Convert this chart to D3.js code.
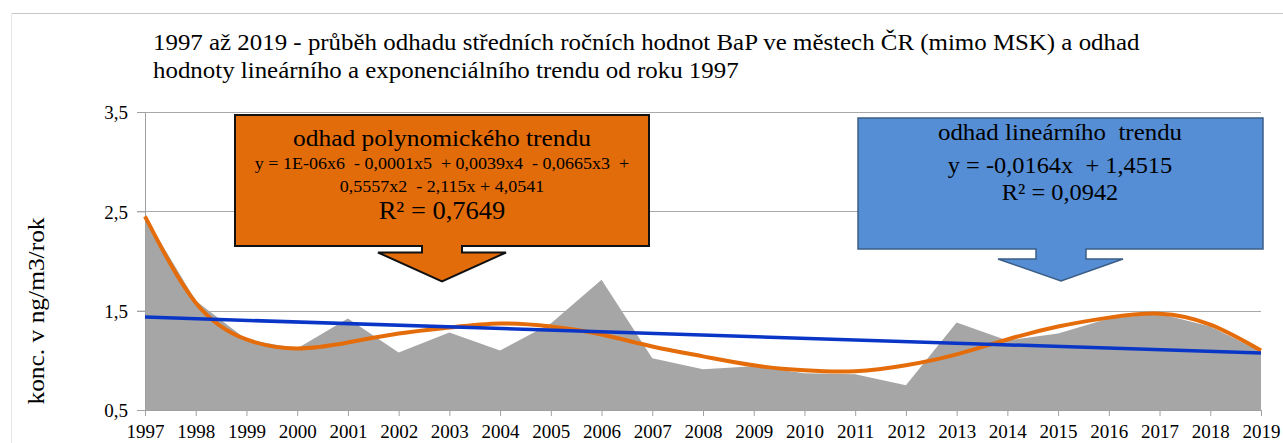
<!DOCTYPE html>
<html>
<head>
<meta charset="utf-8">
<script src="https://cdn.jsdelivr.net/npm/d3@7"></script>
<style>
  body { margin: 0; background: #fff; }
  text { font-family: "Liberation Serif", "Times New Roman", serif; fill: #000; white-space: pre; }
</style>
</head>
<body>
<div id="chart"></div>
<script>
// data
const years = [1997, 1998, 1999, 2000, 2001, 2002, 2003, 2004, 2005, 2006, 2007, 2008,
               2009, 2010, 2011, 2012, 2013, 2014, 2015, 2016, 2017, 2018, 2019];
const bapValues = [2.45, 1.60, 1.21, 1.12, 1.42, 1.08, 1.28, 1.10, 1.37, 1.81, 1.02, 0.91,
                   0.94, 0.87, 0.86, 0.75, 1.38, 1.20, 1.27, 1.42, 1.47, 1.34, 1.09];
const polyTrend = [2.45, 1.58, 1.21, 1.12, 1.18, 1.27, 1.33, 1.37, 1.34, 1.26, 1.14, 1.04,
                   0.95, 0.90, 0.89, 0.95, 1.06, 1.21, 1.34, 1.43, 1.47, 1.36, 1.10];
const linTrendYears = [1997, 2019];
const linTrendValues = [1.435, 1.074];
const yTicks = [0.5, 1.5, 2.5, 3.5];

const titleLines = [
  "1997 až 2019 - průběh odhadu středních ročních hodnot BaP ve městech ČR (mimo MSK) a odhad",
  "hodnoty lineárního a exponenciálního trendu od roku 1997"
];
const polyLabel = [
  "odhad polynomického trendu",
  "y = 1E-06x6  - 0,0001x5  + 0,0039x4  - 0,0665x3  +",
  "0,5557x2  - 2,115x + 4,0541",
  "R² = 0,7649"
];
const linLabel = [
  "odhad lineárního  trendu",
  "y = -0,0164x  + 1,4515",
  "R² = 0,0942"
];
const yLabel = "konc. v ng/m3/rok";

const config = { width: 1283, height: 443, left: 145, right: 1261, top: 112, bottom: 410 };
const SX = 1.06; // the original text is a little wider than Liberation Serif

const svg = d3.select("#chart").append("svg")
  .attr("width", config.width)
  .attr("height", config.height);

// frame of the chart object
svg.append("line").attr("x1", 11).attr("x2", config.width).attr("y1", 13.5).attr("y2", 13.5)
  .attr("stroke", "#c8c8c8");
svg.append("line").attr("x1", 11.5).attr("x2", 11.5).attr("y1", 13).attr("y2", config.height)
  .attr("stroke", "#e6e6e6");

function addText(g, x, y, str, size, anchor, rotate) {
  return g.append("text")
    .attr("transform", `translate(${x},${y})` + (rotate ? ` rotate(${rotate})` : "") + ` scale(${SX},1)`)
    .attr("text-anchor", anchor || "start")
    .style("font-size", size + "px")
    .text(str);
}

const data = years.map((yr, i) => ({ year: yr, v: bapValues[i], p: polyTrend[i] }));
const linData = linTrendYears.map((yr, i) => ({ year: yr, v: linTrendValues[i] }));

const xScale = d3.scaleLinear().domain([1997, 2019]).range([config.left, config.right]);
const yScale = d3.scaleLinear().domain([0.5, 3.5]).range([config.bottom, config.top]);

// gridlines
svg.append("g").selectAll("line")
  .data(yTicks.slice(1))
  .enter().append("line")
    .attr("x1", config.left - 8).attr("x2", config.right)
    .attr("y1", d => Math.round(yScale(d)) + 0.5).attr("y2", d => Math.round(yScale(d)) + 0.5)
    .attr("stroke", "#a9a9a9");

// area
svg.append("path")
  .datum(data)
  .attr("fill", "#a6a6a6")
  .attr("d", d3.area()
    .x(d => xScale(d.year))
    .y0(yScale(0.5))
    .y1(d => yScale(d.v)));

// axes
const fmt = d => d3.format(".1f")(d).replace(".", ",");
const yAxis = svg.append("g")
  .attr("transform", `translate(${config.left},0)`)
  .call(d3.axisLeft(yScale).tickValues(yTicks).tickSize(8).tickPadding(9).tickFormat(fmt));
const xAxis = svg.append("g")
  .attr("transform", `translate(0,${config.bottom})`)
  .call(d3.axisBottom(xScale).tickValues(years).tickSize(6).tickPadding(6).tickFormat(d3.format("d")));

[yAxis, xAxis].forEach(a => {
  a.selectAll(".domain, line").attr("stroke", "#a0a0a0");
  a.selectAll("text")
    .style("font-size", "19px")
    .style("font-family", "Liberation Serif, serif")
    .attr("fill", "#000");
});
yAxis.selectAll("text").attr("dy", "0.36em");
xAxis.selectAll("text").attr("dy", "0.85em");

// trend lines
svg.append("path")
  .datum(data)
  .attr("fill", "none")
  .attr("stroke", "#e46c0a")
  .attr("stroke-width", 4)
  .attr("d", d3.line().curve(d3.curveNatural)
    .x(d => xScale(d.year))
    .y(d => yScale(d.p)));

svg.append("path")
  .datum(linData)
  .attr("fill", "none")
  .attr("stroke", "#0a36c8")
  .attr("stroke-width", 3.5)
  .attr("d", d3.line()
    .x(d => xScale(d.year))
    .y(d => yScale(d.v)));

// callout arrows
function callout(b) {
  const p = d3.path();
  p.moveTo(b.x0, b.y0);
  p.lineTo(b.x1, b.y0);
  p.lineTo(b.x1, b.y1);
  p.lineTo(b.s1, b.y1);
  p.lineTo(b.s1, b.sb);
  p.lineTo(b.w1, b.sb);
  p.lineTo(b.tx, b.ty);
  p.lineTo(b.w0, b.sb);
  p.lineTo(b.s0, b.sb);
  p.lineTo(b.s0, b.y1);
  p.lineTo(b.x0, b.y1);
  p.closePath();
  return p.toString();
}

const polyBox = { x0: 235, x1: 649, y0: 115, y1: 246, s0: 422, s1: 462, sb: 252.5, w0: 378, w1: 506, tx: 442, ty: 281.5 };
const linBox = { x0: 858, x1: 1263, y0: 118, y1: 249, s0: 1036, s1: 1086, sb: 259, w0: 998, w1: 1123, tx: 1061, ty: 281 };

svg.append("path").attr("d", callout(polyBox))
  .attr("fill", "#e36c0a").attr("stroke", "#111").attr("stroke-width", 2)
  .attr("stroke-linejoin", "miter");
svg.append("path").attr("d", callout(linBox))
  .attr("fill", "#558ed5").attr("stroke", "#3b5d86").attr("stroke-width", 1.5);

const pg = svg.append("g");
addText(pg, 442, 146, polyLabel[0], 24, "middle");
addText(pg, 442, 169, polyLabel[1], 17, "middle");
addText(pg, 442, 192, polyLabel[2], 17, "middle");
addText(pg, 442, 219, polyLabel[3], 25, "middle");

const lg = svg.append("g");
addText(lg, 1060, 140, linLabel[0], 23.5, "middle");
addText(lg, 1060, 173, linLabel[1], 23, "middle");
addText(lg, 1060, 200, linLabel[2], 23, "middle");

// title
const tg = svg.append("g");
titleLines.forEach((t, i) => addText(tg, 153, 50 + i * 28, t, 23.5, "start"));

// y axis title
addText(svg, 44, 311, yLabel, 24, "middle", -90);
</script>
</body>
</html>
